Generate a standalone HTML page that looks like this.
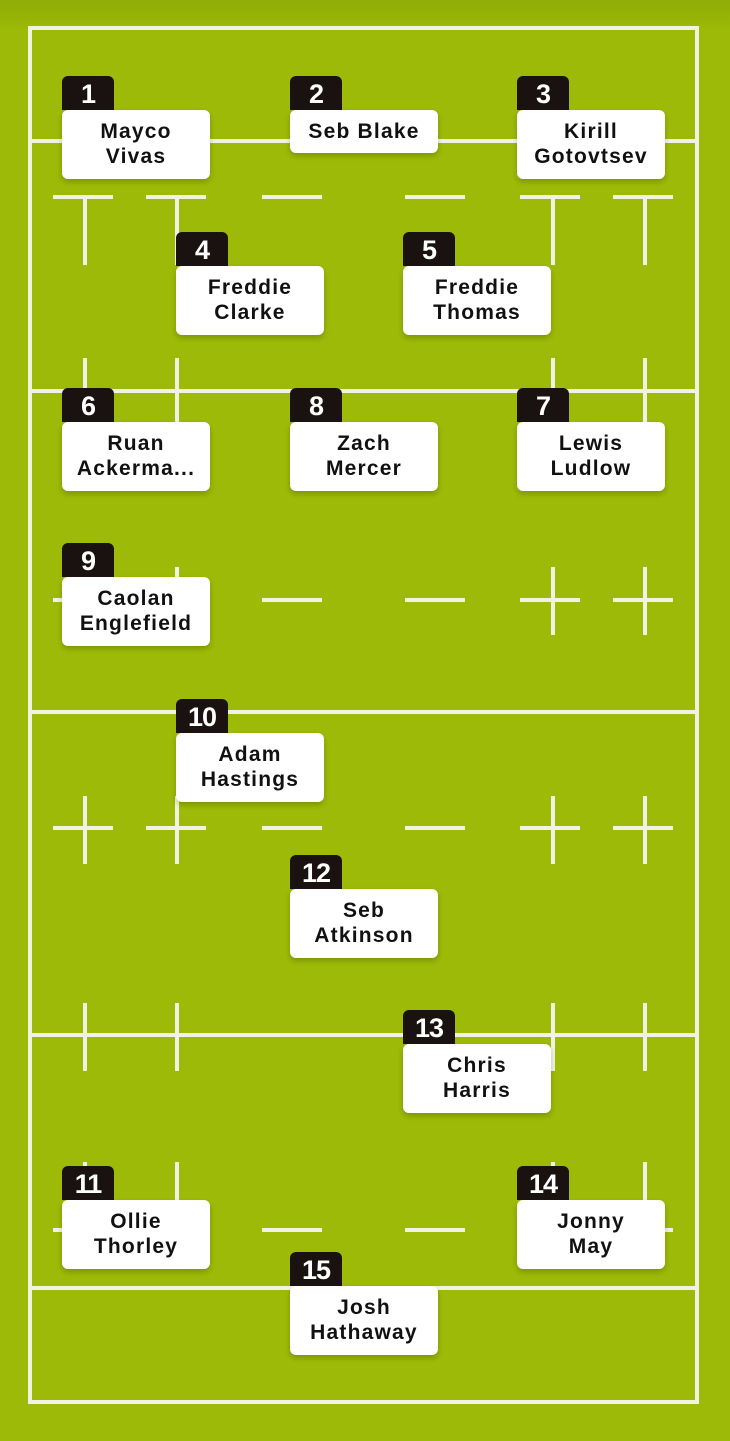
<!DOCTYPE html>
<html><head><meta charset="utf-8"><style>
body{margin:0;width:730px;height:1441px;overflow:hidden;background:#9cba07;position:relative;font-family:"Liberation Sans",sans-serif}
.top{position:absolute;left:0;top:0;width:730px;height:30px;background:linear-gradient(#8fab06,#9cba07)}
svg{position:absolute;left:0;top:0}
.c{position:absolute;width:148px;background:#fff;border-radius:6px;box-shadow:0 3px 6px rgba(0,0,0,.2);text-align:center;font-weight:bold;font-size:21px;line-height:25px;color:#111;letter-spacing:1.2px;box-sizing:border-box;padding-top:9px;white-space:nowrap}
.b{position:absolute;left:0;top:-34px;width:52px;height:34px;background:#1a1210;border-radius:6px 6px 0 0;color:#fff;font-weight:bold;font-size:27px;line-height:36px;text-align:center;letter-spacing:-1px}
</style></head><body>
<div class="top"></div>
<svg width="730" height="1441" stroke="#f2f2e4" stroke-width="4" fill="none">
<defs>
<g id="d">
<line x1="53" x2="113" y1="0" y2="0"/><line x1="146" x2="206" y1="0" y2="0"/><line x1="262" x2="322" y1="0" y2="0"/><line x1="405" x2="465" y1="0" y2="0"/><line x1="520" x2="580" y1="0" y2="0"/><line x1="613" x2="673" y1="0" y2="0"/>
</g>
<g id="v"><line x1="85" x2="85" y1="0" y2="68"/><line x1="177" x2="177" y1="0" y2="68"/><line x1="553" x2="553" y1="0" y2="68"/><line x1="645" x2="645" y1="0" y2="68"/></g>
</defs>
<rect x="30" y="28" width="667" height="1374"/>
<line x1="30" y1="141" x2="697" y2="141"/>
<line x1="30" y1="391" x2="697" y2="391"/>
<line x1="30" y1="712" x2="697" y2="712"/>
<line x1="30" y1="1035" x2="697" y2="1035"/>
<line x1="30" y1="1288" x2="697" y2="1288"/>
<use href="#d" y="197"/><use href="#d" y="600"/><use href="#d" y="828"/><use href="#d" y="1230"/>
<use href="#v" y="197"/><use href="#v" y="358"/><use href="#v" y="567"/><use href="#v" y="796"/><use href="#v" y="1003"/><use href="#v" y="1162"/>
</svg>
<div class="c" style="left:62px;top:110px;height:69px"><div class="b">1</div>Mayco<br>Vivas</div>
<div class="c" style="left:290px;top:110px;height:43px"><div class="b">2</div>Seb Blake</div>
<div class="c" style="left:517px;top:110px;height:69px"><div class="b">3</div>Kirill<br>Gotovtsev</div>
<div class="c" style="left:176px;top:266px;height:69px"><div class="b">4</div>Freddie<br>Clarke</div>
<div class="c" style="left:403px;top:266px;height:69px"><div class="b">5</div>Freddie<br>Thomas</div>
<div class="c" style="left:62px;top:422px;height:69px"><div class="b">6</div>Ruan<br>Ackerma...</div>
<div class="c" style="left:290px;top:422px;height:69px"><div class="b">8</div>Zach<br>Mercer</div>
<div class="c" style="left:517px;top:422px;height:69px"><div class="b">7</div>Lewis<br>Ludlow</div>
<div class="c" style="left:62px;top:577px;height:69px"><div class="b">9</div>Caolan<br>Englefield</div>
<div class="c" style="left:176px;top:733px;height:69px"><div class="b">10</div>Adam<br>Hastings</div>
<div class="c" style="left:290px;top:889px;height:69px"><div class="b">12</div>Seb<br>Atkinson</div>
<div class="c" style="left:403px;top:1044px;height:69px"><div class="b">13</div>Chris<br>Harris</div>
<div class="c" style="left:62px;top:1200px;height:69px"><div class="b">11</div>Ollie<br>Thorley</div>
<div class="c" style="left:517px;top:1200px;height:69px"><div class="b">14</div>Jonny<br>May</div>
<div class="c" style="left:290px;top:1286px;height:69px"><div class="b">15</div>Josh<br>Hathaway</div>
</body></html>
